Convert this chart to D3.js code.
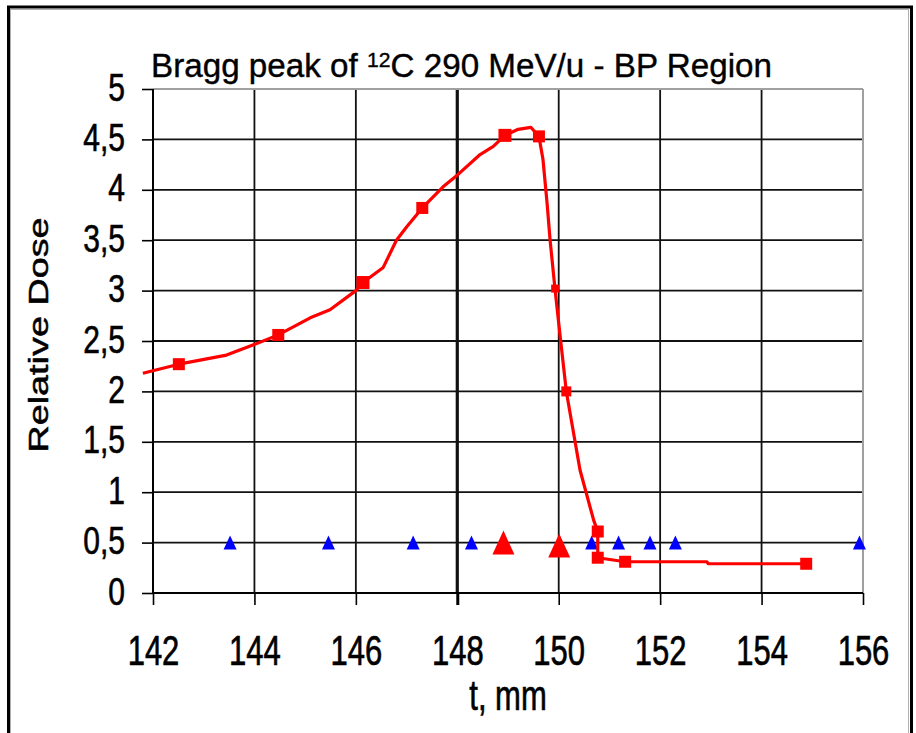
<!DOCTYPE html>
<html><head><meta charset="utf-8">
<script src="https://cdn.jsdelivr.net/npm/d3@7"></script>
<style>html,body{margin:0;padding:0;background:#fff;} svg{display:block;font-family:"Liberation Sans",Arial,sans-serif;}</style>
</head><body>
<script>
// ---- data ----
const xTicks = [142,144,146,148,150,152,154,156];
const yTicks = [0,0.5,1,1.5,2,2.5,3,3.5,4,4.5,5];
const yTickLabels = ["0","0,5","1","1,5","2","2,5","3","3,5","4","4,5","5"];
// red curve (traced)
const curveT = [141.8,142.51,143.45,143.97,144.47,145.1,145.49,146.0,146.14,146.54,146.8,147.0,147.31,147.72,148.01,148.45,148.71,148.94,149.2,149.45,149.61,149.69,149.77,149.83,149.93,150.03,150.15,150.42,150.69,150.77,150.77,151.31,152.92,152.95,154.88];
const curveDose = [2.18,2.27,2.36,2.46,2.56,2.73,2.81,3.0,3.08,3.23,3.5,3.63,3.82,4.03,4.15,4.35,4.43,4.54,4.6,4.62,4.53,4.30,3.87,3.50,3.0,2.54,2.0,1.22,0.72,0.61,0.35,0.31,0.31,0.29,0.29];
// red square markers
const squareT    = [142.51,144.47,146.14,147.31,148.94,149.61,149.93,150.15,150.77,150.77,151.31,154.88];
const squareDose = [2.27,2.56,3.08,3.82,4.54,4.53,3.02,2.0,0.61,0.35,0.31,0.29];
const squareSize = [12,12,13,12,13,12,8,10,12,12,12,12];
// blue small triangles
const blueT    = [143.52,145.46,147.13,148.28,150.65,151.18,151.80,152.3,155.93];
const blueDose = [0.5,0.5,0.5,0.5,0.5,0.5,0.5,0.5,0.5];
// red big triangles
const redTriT    = [148.91,150.01];
const redTriDose = [0.5,0.47];

const W=916,H=733;
const svg=d3.select("body").append("svg").attr("width",W).attr("height",H);
const L=153,R=863,T=89,B=593;
const x=d3.scaleLinear().domain([142,156]).range([L,R]);
const y=d3.scaleLinear().domain([0,5]).range([B,T]);

// outer frame
svg.append("rect").attr("x",10.5).attr("y",9.5).attr("width",898).attr("height",740)
  .attr("fill","none").attr("stroke","#b0b0b0").attr("stroke-width",1);
svg.append("rect").attr("x",8.5).attr("y",7).attr("width",903).attr("height",745)
  .attr("fill","none").attr("stroke","#000").attr("stroke-width",3);

// gridlines
const g=svg.append("g");
g.selectAll("line.h").data(yTicks.filter(v=>v>0&&v<5)).join("line")
  .attr("x1",L).attr("x2",R).attr("y1",d=>y(d)).attr("y2",d=>y(d))
  .attr("stroke","#111").attr("stroke-width",1.8);
g.selectAll("line.v").data(xTicks.filter(v=>v>142&&v<156)).join("line")
  .attr("y1",T).attr("y2",B).attr("x1",d=>x(d)).attr("x2",d=>x(d))
  .attr("stroke","#111").attr("stroke-width",d=>d===148?3.2:1.8);
// plot border top/right gray
g.append("line").attr("x1",L).attr("x2",R).attr("y1",T).attr("y2",T).attr("stroke","#a0a0a0").attr("stroke-width",2);
g.append("line").attr("x1",R).attr("x2",R).attr("y1",T).attr("y2",B).attr("stroke","#a0a0a0").attr("stroke-width",2);

// axes
const xAxis=svg.append("g").attr("transform",`translate(0,${B})`)
  .call(d3.axisBottom(x).tickValues(xTicks).tickSize(12).tickFormat(d3.format("d")));
xAxis.select(".domain").attr("d",`M${L},0H${R}`).attr("stroke","#000").attr("stroke-width",2);
xAxis.selectAll(".tick line").attr("stroke","#000").attr("stroke-width",d=>d===148?3:1.6);
xAxis.selectAll(".tick text").attr("y",0).attr("dy",0).attr("fill","#000")
  .attr("stroke","#000").attr("stroke-width",0.5)
  .attr("font-size",31).attr("transform","translate(0,72) scale(1,1.35)");

const yAxis=svg.append("g").attr("transform",`translate(${L},0)`)
  .call(d3.axisLeft(y).tickValues(yTicks).tickSize(11).tickFormat((d,i)=>yTickLabels[i]));
yAxis.select(".domain").attr("d",`M0,${T}V${B}`).attr("stroke","#000").attr("stroke-width",2);
yAxis.selectAll(".tick line").attr("stroke","#000").attr("stroke-width",1.6);
yAxis.selectAll(".tick text").attr("x",0).attr("dy",0).attr("fill","#000")
  .attr("stroke","#000").attr("stroke-width",0.5)
  .attr("font-size",30).attr("transform","translate(-28,11) scale(1,1.28)");

// blue triangles
const tri=(w,h)=>`M0,${-h/2}L${w/2},${h/2}L${-w/2},${h/2}Z`;
svg.append("g").selectAll("path").data(blueT).join("path")
  .attr("d",tri(13,14)).attr("fill","#0000ff")
  .attr("transform",(d,i)=>`translate(${x(d)},${y(blueDose[i])})`);

// red line
const line=d3.line().x((d,i)=>x(curveT[i])).y((d,i)=>y(curveDose[i]));
svg.append("path").datum(curveT).attr("d",line).attr("fill","none")
  .attr("stroke","#ff0000").attr("stroke-width",3.2).attr("stroke-linejoin","round");
svg.append("g").selectAll("rect").data(squareT).join("rect")
  .attr("x",(d,i)=>x(d)-squareSize[i]/2).attr("y",(d,i)=>y(squareDose[i])-squareSize[i]/2)
  .attr("width",(d,i)=>squareSize[i]).attr("height",(d,i)=>squareSize[i]).attr("fill","#ff0000");

// red big triangles
svg.append("g").selectAll("path").data(redTriT).join("path")
  .attr("d",tri(22,24)).attr("fill","#ff0000")
  .attr("transform",(d,i)=>`translate(${x(d)},${y(redTriDose[i])})`);

// title
const title=svg.append("text").attr("x",151).attr("y",77).attr("font-size",33).attr("fill","#000")
  .attr("stroke","#000").attr("stroke-width",0.4)
  .attr("textLength",621).attr("lengthAdjust","spacingAndGlyphs");
title.append("tspan").text("Bragg peak of ");
title.append("tspan").attr("font-size",21).attr("dy",-10).text("12");
title.append("tspan").attr("dy",10).text("C 290 MeV/u - BP Region");

// axis titles
svg.append("text").attr("font-size",31).attr("text-anchor","middle").attr("fill","#000")
  .attr("stroke","#000").attr("stroke-width",0.5)
  .attr("transform",`translate(${(L+R)/2},710) scale(1,1.35)`).text("t, mm");
svg.append("text").attr("font-size",28).attr("text-anchor","middle").attr("fill","#000")
  .attr("stroke","#000").attr("stroke-width",0.5)
  .attr("transform",`translate(48,335) rotate(-90) scale(1.35,1)`).text("Relative Dose");
</script>
</body></html>
